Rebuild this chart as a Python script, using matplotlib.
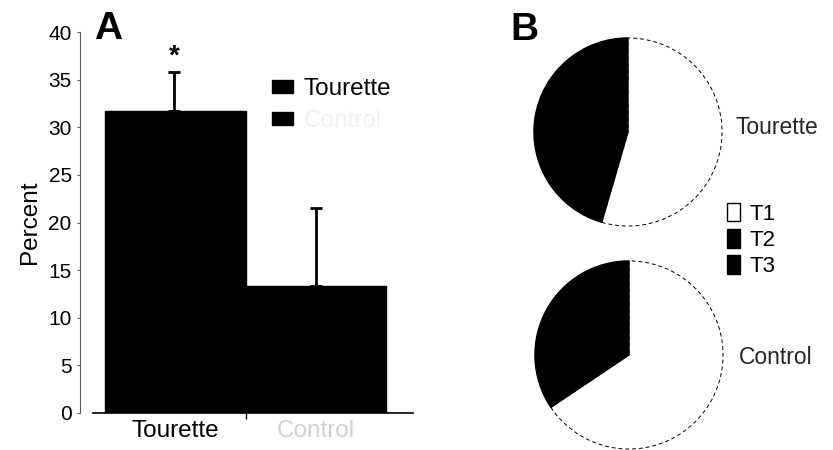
import matplotlib.pyplot as plt
from matplotlib.patches import Patch

plt.rcParams['font.family'] = ['Liberation Sans', 'DejaVu Sans']

# panel A: percent per group
groups = ['Tourette', 'Control']
percent = [31.7, 13.3]
percent_err = [4.1, 8.2]

# panel B: share of T1 / T2 / T3 per group
phases = ['T1', 'T2', 'T3']
tourette_share = [54.5, 23.0, 22.5]
control_share = [65.6, 17.5, 16.9]

W, H = 833, 450
fig = plt.figure(figsize=(W / 100, H / 100), dpi=100)


def px(x0, y0, x1, y1):
    # pixel box (top-left origin) -> figure fraction rect
    return [x0 / W, 1 - y1 / H, (x1 - x0) / W, (y1 - y0) / H]


# ---- A: bar chart
ax = fig.add_axes(px(80, 32, 413, 413))
ax.bar([0, 1], percent, width=1.0, color='black', edgecolor='black')
ax.errorbar([-0.01, 1.0], percent, yerr=[[0, 0], percent_err], fmt='none',
            ecolor='black', elinewidth=2, capsize=4, capthick=2)
ax.text(-0.01, 36.0, '*', ha='center', va='bottom', fontsize=20, fontweight='bold')

ax.set_ylim(0, 40)
ax.set_xlim(-0.68, 1.69)
ax.set_yticks(range(0, 41, 5))
ax.set_xticks([0, 1])
ax.set_xticklabels(groups, fontsize=17.5)
ax.get_xticklabels()[1].set_color('0.82')
ax.set_xticks([0.5], minor=True)
ax.tick_params(axis='x', which='major', length=0, pad=5)
ax.tick_params(axis='x', which='minor', length=4, width=1, direction='out')
ax.tick_params(axis='y', labelsize=15, length=2, width=0.8, color='0.4', pad=4)
ax.set_ylabel('Percent', fontsize=17.5, labelpad=5)

for side in ['top', 'right']:
    ax.spines[side].set_visible(False)
ax.spines['left'].set_color('0.35')
ax.spines['left'].set_linewidth(0.8)
ax.spines['bottom'].set_bounds(-0.59, 1.69)
ax.spines['bottom'].set_linewidth(1.2)

leg = ax.legend(handles=[Patch(facecolor='black', edgecolor='black', label='Tourette'),
                         Patch(facecolor='black', edgecolor='black', label='Control')],
                loc='upper left', bbox_to_anchor=(0.54, 0.91), frameon=False,
                fontsize=17.5, handlelength=0.85, handleheight=0.45, handletextpad=0.45,
                labelspacing=0.4, borderpad=0)
leg.get_texts()[1].set_color('0.95')

fig.text(108 / W, 1 - 29 / H, 'A', fontsize=28, fontweight='bold', ha='center', va='center')

# ---- B: pie charts
pie_colors = ['white', 'black', 'black']
for share, name, (cx, cy), (tx, ty) in [
        (tourette_share, 'Tourette', (628, 132), (735, 128)),
        (control_share, 'Control', (629, 355), (739, 358))]:
    r = 95
    pax = fig.add_axes(px(cx - r, cy - r, cx + r, cy + r))
    wedges, _ = pax.pie(share, colors=pie_colors, startangle=90, counterclock=False,
                        radius=1, wedgeprops=dict(edgecolor='black', linewidth=1))
    # thin broken outline round the white slice, solid edges on the dark ones
    wedges[0].set_linestyle((0, (4, 3)))
    wedges[0].set_linewidth(0.7)
    pax.set_xlim(-1.01, 1.01)
    pax.set_ylim(-1.01, 1.01)
    pax.axis('off')
    fig.text(tx / W, 1 - ty / H, name, fontsize=16.5, color='0.15',
             ha='left', va='center')

fig.legend(handles=[Patch(facecolor=c, edgecolor='black', label=p)
                    for c, p in zip(pie_colors, phases)],
           loc='center left', bbox_to_anchor=(716 / W, 1 - 240 / H), frameon=False,
           fontsize=16, handlelength=0.6, handleheight=0.9, handletextpad=0.4,
           labelspacing=0.2, borderpad=0)

fig.text(524 / W, 1 - 30 / H, 'B', fontsize=28, fontweight='bold', ha='center', va='center')

fig.savefig('out.png', dpi=100, facecolor='white')
